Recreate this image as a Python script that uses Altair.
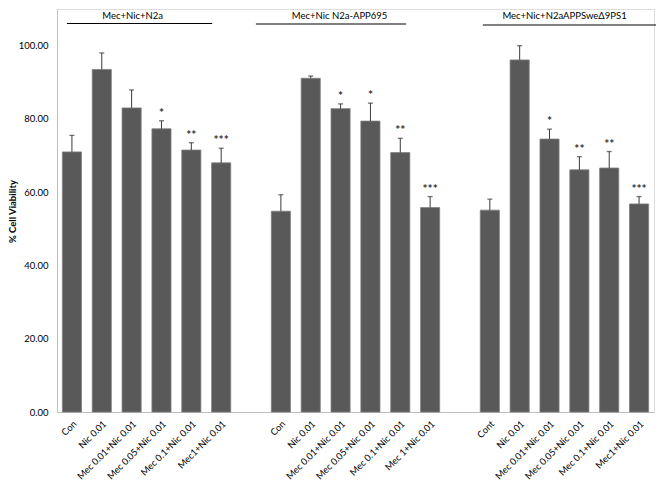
import altair as alt
import pandas as pd

FONT = "Lato"

groups = ["Mec+Nic+N2a", "Mec+Nic N2a-APP695", "Mec+Nic+N2aAPPSweΔ9PS1"]
labels_g1 = ["Con", "Nic 0.01", "Mec 0.01+Nic 0.01", "Mec 0.05+Nic 0.01", "Mec 0.1+Nic 0.01", "Mec1+Nic 0.01"]
labels_g2 = ["Con", "Nic 0.01", "Mec 0.01+Nic 0.01", "Mec 0.05+Nic 0.01", "Mec 0.1+Nic 0.01", "Mec 1+Nic 0.01"]
labels_g3 = ["Cont", "Nic 0.01", "Mec 0.01+Nic 0.01", "Mec 0.05+Nic 0.01", "Mec 0.1+Nic 0.01", "Mec1+Nic 0.01"]

values_g1 = [71.0, 93.5, 83.0, 77.3, 71.5, 68.0]
values_g2 = [54.8, 91.1, 82.8, 79.4, 70.8, 55.8]
values_g3 = [55.1, 96.1, 74.5, 66.1, 66.6, 56.8]

errors_g1 = [4.5, 4.5, 4.9, 2.2, 2.0, 4.0]
errors_g2 = [4.5, 0.6, 1.3, 4.9, 3.9, 3.0]
errors_g3 = [3.0, 3.9, 2.7, 3.6, 4.5, 2.0]

stars_g1 = ["", "", "", "*", "**", "***"]
stars_g2 = ["", "", "*", "*", "**", "***"]
stars_g3 = ["", "", "*", "**", "**", "***"]

y_ticks = [0, 20, 40, 60, 80, 100]

rows = []
domain = []
for gi, (labs, vals, errs, sts) in enumerate(
    [(labels_g1, values_g1, errors_g1, stars_g1),
     (labels_g2, values_g2, errors_g2, stars_g2),
     (labels_g3, values_g3, errors_g3, stars_g3)]):
    for lab, v, e, s in zip(labs, vals, errs, sts):
        key = f"{gi + 1}|{lab}"
        domain.append(key)
        rows.append({"slot": key, "group": groups[gi], "value": v, "top": v + e, "star": s})
    if gi < 2:
        domain.append(f"{'xy'[gi]}|")

df = pd.DataFrame(rows)

x_scale = alt.Scale(domain=domain, paddingInner=0.36, paddingOuter=0.18)
y_scale = alt.Scale(domain=[0, 110], nice=False)

x_enc = alt.X("slot:N", scale=x_scale, sort=domain,
              axis=alt.Axis(title=None, labelExpr="substring(datum.value, 2)",
                            labelAngle=-45, labelAlign="right", labelBaseline="middle",
                            labelPadding=10, labelOffset=3, ticks=False, domainColor="#bfbfbf",
                            labelFont=FONT, labelFontSize=9.3, labelColor="#000000"))
y_enc = alt.Y("value:Q", scale=y_scale,
              axis=alt.Axis(title="% Cell Viability", values=y_ticks, format=".2f",
                            ticks=False, grid=False, domainColor="#bfbfbf",
                            labelFont=FONT, labelFontSize=9.5, labelColor="#000000",
                            labelPadding=9, titleFont=FONT, titleFontSize=9.5,
                            titleFontWeight="bold", titleColor="#000000",
                            titleAngle=-90, titleX=-45, titleY=202,
                            titleAlign="center", titleBaseline="middle"))

base = alt.Chart(df)

bars = base.mark_bar(color="#595959", stroke="#7f7f7f", strokeWidth=0.8).encode(x=x_enc, y=y_enc)

whisk = base.mark_rule(color="#3a3a3a", strokeWidth=1).encode(
    x=alt.X("slot:N", scale=x_scale, sort=domain),
    y=alt.Y("value:Q", scale=y_scale),
    y2="top:Q")

caps = base.mark_tick(color="#3a3a3a", size=5, thickness=1.3).encode(
    x=alt.X("slot:N", scale=x_scale, sort=domain),
    y=alt.Y("top:Q", scale=y_scale))

stars = base.mark_text(font=FONT, fontSize=12, fontWeight="bold", baseline="alphabetic",
                       dy=-4, color="#333333").encode(
    x=alt.X("slot:N", scale=x_scale, sort=domain),
    y=alt.Y("top:Q", scale=y_scale),
    text="star:N")

# group headers
hdr_layers = []
hdr_spec = [
    # (label slot, dx, first slot, last slot, xOffset, x2Offset, line y, group)
    (2, 1, 0, 5, -5, -9, 14.5, 0),
    (9, -1, 7, 12, -25, -24, 15.0, 1),
    (16, 15, 14, 19, -7, 17, 16.0, 2),
]
for lab_slot, dx, s0, s1, xo, x2o, ly, gi in hdr_spec:
    hd = pd.DataFrame({"slot": [domain[lab_slot]], "s0": [domain[s0]], "s1": [domain[s1]],
                       "name": [groups[gi]]})
    hdr_layers.append(alt.Chart(hd).mark_text(font=FONT, fontSize=9.5, dx=dx, baseline="middle",
                                              color="#000000").encode(
        x=alt.X("slot:N", scale=x_scale, sort=domain), y=alt.value(7), text="name:N"))
    hdr_layers.append(alt.Chart(hd).mark_rule(color="#000000", strokeWidth=1, xOffset=xo, x2Offset=x2o).encode(
        x=alt.X("s0:N", scale=x_scale, sort=domain), x2="s1:N", y=alt.value(ly)))

chart = alt.layer(bars, whisk, caps, stars, *hdr_layers).properties(
    width=597, height=403,
    padding={"left": 49, "top": 1, "right": 2, "bottom": 68},
    autosize=alt.AutoSizeParams(type="none"),
).configure_view(stroke=None).configure(background="#ffffff")

chart.save("out.html", embed_options={"renderer": "svg", "actions": False})
